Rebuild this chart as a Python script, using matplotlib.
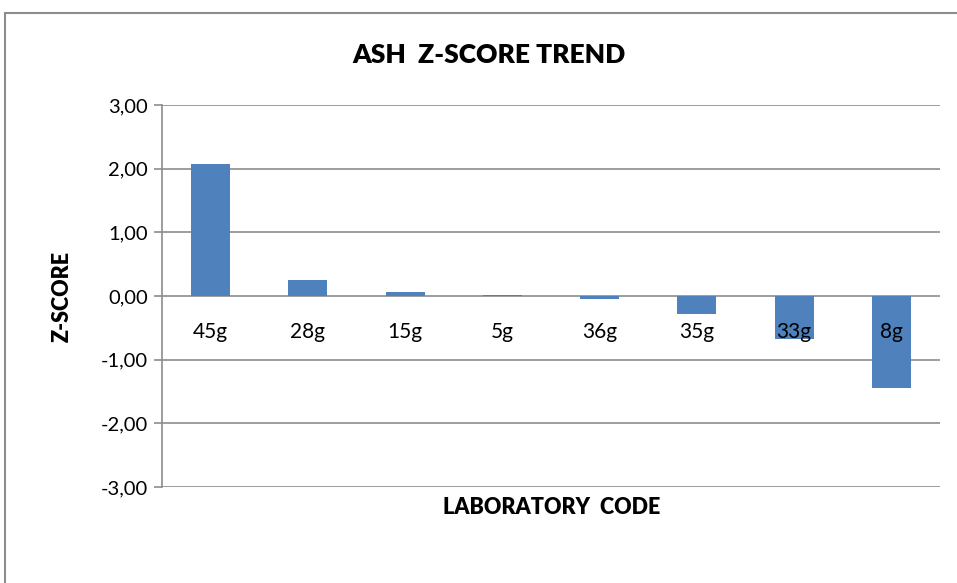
import matplotlib.pyplot as plt
from matplotlib.patches import Rectangle
from matplotlib.ticker import FuncFormatter, MultipleLocator

# Ash z-score per laboratory
lab_codes = ["45g", "28g", "15g", "5g", "36g", "35g", "33g", "8g"]
z_scores = [2.07, 0.25, 0.06, 0.02, -0.04, -0.29, -0.67, -1.44]

BAR_COLOR = "#4F81BD"
GRID_COLOR = "#8C8C8C"
FONT = ["Lato", "DejaVu Sans"]


def main() -> None:
    plt.rcParams['font.family'] = FONT
    fig = plt.figure(figsize=(9.57, 5.83), dpi=100)
    ax = fig.add_axes([162 / 957, 1 - 487 / 583, (940 - 162) / 957, (487 - 105) / 583])

    x = list(range(len(lab_codes)))
    ax.bar(x, z_scores, width=0.4, color=BAR_COLOR, zorder=2)

    ax.set_xlim(-0.5, len(lab_codes) - 0.5)
    ax.set_ylim(-3, 3)
    ax.yaxis.set_major_locator(MultipleLocator(1))
    ax.yaxis.set_major_formatter(FuncFormatter(lambda v, _: f"{v:.2f}".replace(".", ",")))
    ax.tick_params(axis='y', length=6, width=1.2, color=GRID_COLOR, labelsize=14.5, pad=4)
    ax.set_xticks([])
    ax.grid(axis='y', color=GRID_COLOR, linewidth=1.2, zorder=1)
    ax.set_axisbelow(True)

    for side in ("top", "right", "bottom"):
        ax.spines[side].set_visible(False)
    ax.spines["left"].set_color(GRID_COLOR)
    ax.spines["left"].set_linewidth(1.2)

    # category labels sit just under the zero line, like Excel does
    for xi, code in zip(x, lab_codes):
        ax.annotate(code, (xi, 0), xytext=(0, -26), textcoords='offset points',
                    ha='center', va='center', fontsize=15, zorder=3)

    fig.text(489 / 957, 1 - 55 / 583, "ASH  Z-SCORE TREND", ha='center', va='center',
             fontsize=19, fontweight='heavy')
    fig.text(552 / 957, 1 - 508 / 583, "LABORATORY  CODE", ha='center', va='center',
             fontsize=15.5, fontweight='heavy')
    fig.text(62 / 957, 1 - 296 / 583, "Z-SCORE", ha='center', va='center',
             rotation=90, fontsize=15.5, fontweight='heavy')

    # chart area border, runs off the right and bottom of the image
    fig.patches.append(Rectangle((5 / 957, -0.05), 1.1, 1 - 13 / 583 + 0.05,
                                 transform=fig.transFigure, fill=False,
                                 edgecolor=GRID_COLOR, linewidth=1.5))

    fig.savefig("out.png", dpi=100)


if __name__ == '__main__':
    main()
